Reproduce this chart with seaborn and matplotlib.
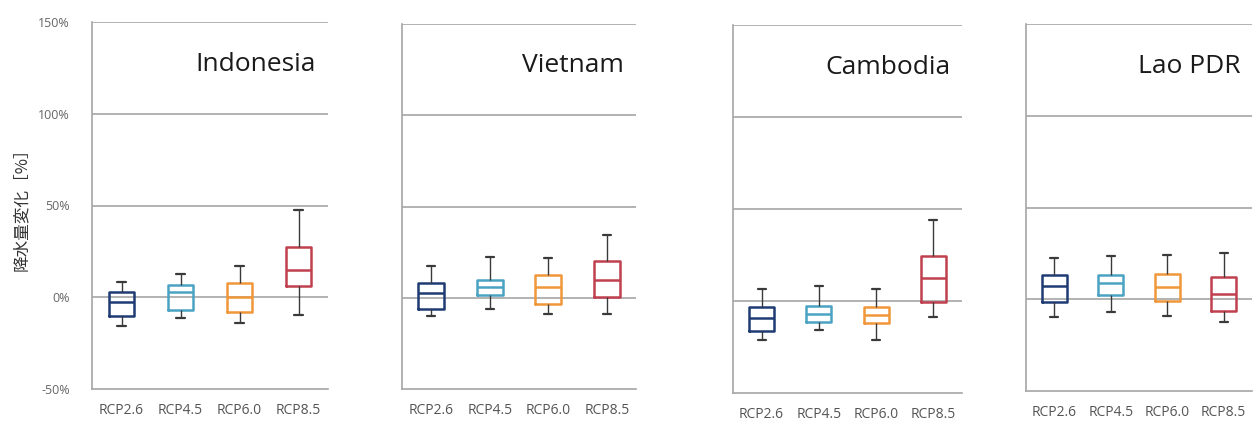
import numpy as np
import pandas as pd
import matplotlib
matplotlib.use("Agg")
import matplotlib.pyplot as plt
import seaborn as sns
from matplotlib.ticker import FuncFormatter

sns.set_style("white")
plt.rcParams['font.family'] = ['Open Sans', 'Noto Sans CJK JP', 'DejaVu Sans']

countries = ["Indonesia", "Vietnam", "Cambodia", "Lao PDR"]
scenarios = ["RCP2.6", "RCP4.5", "RCP6.0", "RCP8.5"]
colors = ["#1f3b73", "#4ba3c3", "#f0973a", "#c0404f"]
y_ticks = [-50, 0, 50, 100, 150]
y_label = "降水量変化［%］"

# five-number summaries per scenario: [whisker low, Q1, median, Q3, whisker high] (%)
indonesia = [[-15.8, -10.4, -2.7, 3.0, 8.2],
             [-11.3, -7.1, 3.0, 6.9, 12.9],
             [-14.0, -8.0, 0.0, 7.8, 17.3],
             [-9.5, 6.4, 14.7, 27.5, 47.3]]
vietnam = [[-10.0, -5.9, 2.4, 7.9, 17.4],
           [-5.9, 1.5, 5.7, 10.0, 22.5],
           [-9.0, -3.5, 6.0, 12.5, 22.0],
           [-9.0, 0.5, 9.7, 20.3, 34.4]]
cambodia = [[-21.4, -16.4, -9.1, -3.5, 6.4],
            [-15.5, -11.3, -7.1, -2.7, 8.2],
            [-21.0, -11.9, -7.7, -3.5, 6.4],
            [-8.6, -0.4, 12.4, 24.6, 43.8]]
lao = [[-9.7, -1.5, 7.1, 13.1, 22.3],
       [-6.9, 2.2, 8.9, 13.1, 23.7],
       [-9.3, -1.1, 6.8, 13.7, 24.1],
       [-12.4, -6.4, 2.7, 12.2, 25.0]]
country_stats = [indonesia, vietnam, cambodia, lao]

W, H = 1253, 423
fig = plt.figure(figsize=(W / 100, H / 100), dpi=100)

# axes boxes in pixels: left, right, top, bottom
boxes_px = [(92, 328, 22, 389), (402, 636, 24, 389),
            (733, 962, 25, 393), (1026, 1252, 24, 391)]

grid_c = "#a6a6a6"
for i, (name, stats) in enumerate(zip(countries, country_stats)):
    l, r, t, b = boxes_px[i]
    ax = fig.add_axes([l / W, 1 - b / H, (r - l) / W, (b - t) / H])
    rows = []
    for sc, s in zip(scenarios, stats):
        for v in s:
            rows.append({"scenario": sc, "value": v})
    df = pd.DataFrame(rows)
    sns.boxplot(data=df, x="scenario", y="value", hue="scenario",
                order=scenarios, hue_order=scenarios, palette=colors,
                fill=False, whis=(0, 100), width=0.44, linewidth=1.8,
                showfliers=False, legend=False, ax=ax,
                whiskerprops=dict(color="#3a3a3a", linewidth=1.0),
                capprops=dict(color="#3a3a3a", linewidth=1.6),
                capwidths=0.14, zorder=3)
    ax.set_ylim(-50, 150)
    ax.set_xlim(-0.5, 3.5)
    ax.set_yticks(y_ticks)
    for yv in y_ticks[1:]:
        ax.axhline(yv, color=grid_c, linewidth=1.2, zorder=1)
    for sp in ["top", "right"]:
        ax.spines[sp].set_visible(False)
    for sp in ["left", "bottom"]:
        ax.spines[sp].set_color(grid_c)
        ax.spines[sp].set_linewidth(1.2)
    ax.set_xticks(range(4))
    ax.set_xticklabels(scenarios, fontsize=10, color="#555555")
    ax.tick_params(axis="x", length=0, pad=10)
    ax.set_xticks([0.5, 1.5, 2.5, 3.5], minor=True)
    ax.tick_params(axis="x", which="minor", length=4, color=grid_c, width=1)
    ax.tick_params(axis="y", length=4, color=grid_c, width=1, direction="out")
    ax.set_xlabel("")
    if i == 0:
        ax.yaxis.set_major_formatter(FuncFormatter(lambda v, p: f"{int(v)}%"))
        ax.tick_params(axis="y", labelsize=9, labelcolor="#666666", pad=12)
        ax.set_ylabel(y_label, fontsize=12, color="#333333", labelpad=6,
                      family=['Noto Sans CJK JP', 'DejaVu Sans'])
    else:
        ax.set_yticklabels([])
        ax.set_ylabel("")
    ax.text(0.95, 0.885, name, transform=ax.transAxes, ha="right", va="center",
            fontsize=19, color="#1a1a1a")

fig.savefig("out.png", dpi=100)
